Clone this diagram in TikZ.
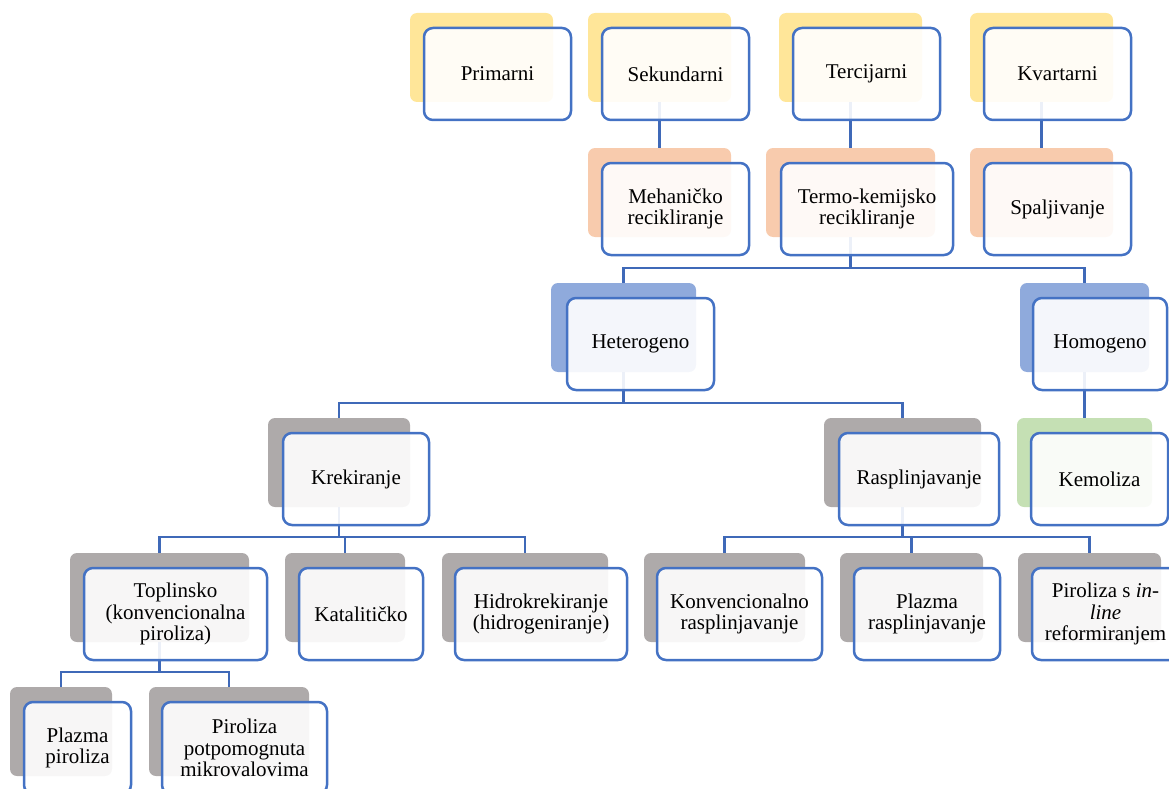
\documentclass[tikz,border=0pt]{standalone}
\usepackage{fontspec}
\setmainfont{Liberation Serif}
\pgfdeclarelayer{bg}\pgfdeclarelayer{mid}
\pgfsetlayers{bg,mid,main}
\definecolor{cyel}{HTML}{FFE699}
\definecolor{cpea}{HTML}{F8CBAD}
\definecolor{cblu}{HTML}{8FAADC}
\definecolor{cgry}{HTML}{AEAAAA}
\definecolor{cgrn}{HTML}{C5E0B4}
\definecolor{cbord}{HTML}{4472C4}
\definecolor{cline}{HTML}{3F69B8}
\tikzset{
 backbox/.style={rectangle, rounded corners=7pt, inner sep=0pt},
 frontbox/.style={rectangle, rounded corners=9pt, draw=cbord, line width=2.5pt, fill=white, fill opacity=0.9, text opacity=1, align=center, inner sep=0pt, font=\fontsize{21}{21.5}\selectfont},
 conn/.style={draw=cline, line width=2.4pt}
}
\newcommand\ent[8]{%
 \begin{pgfonlayer}{bg}
 \node[backbox, fill=#7, minimum width={#3-#2}, minimum height=89] (#1b) at ({(#2+#3)/2},{#6+44.5}) {};
 \end{pgfonlayer}
 \node[frontbox, minimum width={#5-#4}, minimum height=92] (#1) at ({(#4+#5)/2},{#6+61}) {#8};
}
\begin{document}
\begin{tikzpicture}[x=1pt,y=-1pt]
\useasboundingbox (0,0) rectangle (1169,789);
\ent{pri}{410}{553}{424}{571}{13}{cyel}{Primarni}
\ent{sek}{588}{731}{602}{749}{13}{cyel}{Sekundarni}
\ent{ter}{779}{922}{793}{940}{13}{cyel}{Tercijarni}
\ent{kva}{970}{1113}{984}{1131}{13}{cyel}{Kvartarni}
\ent{meh}{588}{731}{602}{749}{148}{cpea}{Mehaničko\\recikliranje}
\ent{term}{766}{935}{781}{953}{148}{cpea}{Termo-kemijsko\\recikliranje}
\ent{spa}{970}{1113}{984}{1131}{148}{cpea}{Spaljivanje}
\ent{het}{551}{696}{567}{714}{283}{cblu}{Heterogeno}
\ent{hom}{1020}{1149}{1033}{1167}{283}{cblu}{Homogeno}
\ent{kre}{268}{410}{283}{429}{418}{cgry}{Krekiranje}
\ent{ras}{824}{981}{839}{999}{418}{cgry}{Rasplinjavanje}
\ent{kem}{1017}{1152}{1031}{1168}{418}{cgrn}{Kemoliza}
\ent{top}{70}{249}{84}{267}{553}{cgry}{Toplinsko\\(konvencionalna\\piroliza)}
\ent{kat}{285}{405}{299}{423}{553}{cgry}{Katalitičko}
\ent{hid}{442}{608}{455}{627}{553}{cgry}{Hidrokrekiranje\\(hidrogeniranje)}
\ent{kon}{644}{805}{657}{822}{553}{cgry}{Konvencionalno\\rasplinjavanje}
\ent{plr}{840}{983}{854}{1000}{553}{cgry}{Plazma\\rasplinjavanje}
\ent{pil}{1018}{1161}{1032}{1179}{553}{cgry}{Piroliza s \textit{in-}\\\textit{line}\\reformiranjem}
\ent{plp}{10}{112}{24}{131}{687}{cgry}{Plazma\\piroliza}
\ent{ppm}{149}{309}{162}{327}{687}{cgry}{Piroliza\\potpomognuta\\mikrovalovima}
\begin{pgfonlayer}{mid}
\draw[conn] (sekb.south) -- (mehb.north);
\draw[conn] (terb.south) -- (termb.north);
\draw[conn] (kvab.south) -- (spab.north);
\draw[conn] (termb.south) -- (termb.south |- 0,268) coordinate (j1) -| (hetb.north);
\draw[conn] (j1) -| (homb.north);
\draw[conn] (hetb.south) -- (hetb.south |- 0,403) coordinate (j2) -| (kreb.north);
\draw[conn] (j2) -| (rasb.north);
\draw[conn] (homb.south) -- (kemb.north);
\draw[conn] (kreb.south) -- (kreb.south |- 0,537) coordinate (j3) -| (topb.north);
\draw[conn] (j3) -| (katb.north);
\draw[conn] (j3) -| (hidb.north);
\draw[conn] (rasb.south) -- (rasb.south |- 0,537) coordinate (j4) -| (konb.north);
\draw[conn] (j4) -| (plrb.north);
\draw[conn] (j4) -| (pilb.north);
\draw[conn] (topb.south) -- (topb.south |- 0,672) coordinate (j5) -| (plpb.north);
\draw[conn] (j5) -| (ppmb.north);
\end{pgfonlayer}
\end{tikzpicture}
\end{document}
